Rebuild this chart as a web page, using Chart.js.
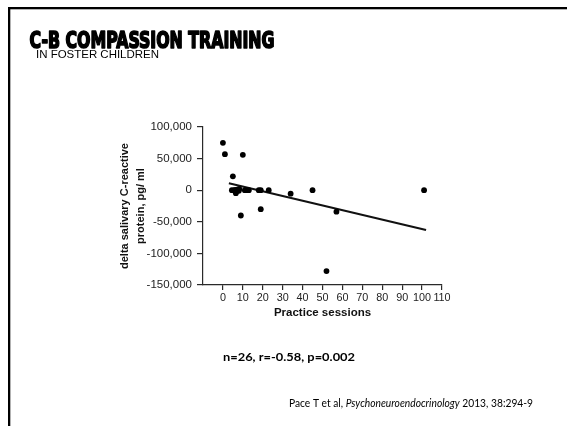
<!DOCTYPE html>
<html>
<head>
<meta charset="utf-8">
<title>C-B Compassion Training</title>
<script src="https://cdn.jsdelivr.net/npm/chart.js@4/dist/chart.umd.min.js"></script>
<style>
  html, body { margin: 0; padding: 0; background: #fff; }
  #wrap { position: relative; width: 567px; height: 426px; overflow: hidden; }
  canvas { display: block; }
</style>
</head>
<body>
<div id="wrap"><canvas id="c" width="567" height="426"></canvas></div>
<script>
// Practice sessions completed vs. change in salivary CRP, one point per child
const sessions = [0, 1, 10, 5, 9, 19, 34, 45, 57, 52, 101, 11, 13, 18, 19, 23, 4.5, 5.7, 6.5, 7.3, 8.2, 6.5, 7, 12, 8, 6];
const crpDelta = [75000, 57000, 56000, 22000, -40000, -30000, -5500, 0, -34000, -128000, 0, 0, 0, 0, 0, 0, 0, 0, -2200, 0, 2000, -4700, 1000, 0, -1000, 0];

// Least-squares fit drawn across the observed range
const fitSessions = [3, 102];
const fitCrp = [11000, -63000];

// Axis ticks
const xTickValues = [0, 10, 20, 30, 40, 50, 60, 70, 80, 90, 100, 110];
const yTickValues = [-150000, -100000, -50000, 0, 50000, 100000];

const titleText = 'C-B COMPASSION TRAINING';
const subtitleText = 'IN FOSTER CHILDREN';
const statsText = 'n=26, r=-0.58, p=0.002';
const citeParts = [
  { text: 'Pace T et al, ', italic: false },
  { text: 'Psychoneuroendocrinology', italic: true },
  { text: ' 2013, 38:294-9', italic: false }
];

const points = sessions.map((x, i) => ({ x, y: crpDelta[i] }));
const fitLine = fitSessions.map((x, i) => ({ x, y: fitCrp[i] }));

// Draws a string squeezed/stretched horizontally to a given width
function fitText(ctx, text, x, y, width, font, stroke) {
  ctx.save();
  ctx.font = font;
  const w = ctx.measureText(text).width;
  ctx.translate(x, y);
  ctx.scale(width / w, 1);
  ctx.fillText(text, 0, 0);
  if (stroke) {
    ctx.lineWidth = stroke;
    ctx.lineJoin = 'round';
    ctx.strokeText(text, 0, 0);
  }
  ctx.restore();
}

const slidePlugin = {
  id: 'slide',
  beforeDraw(chart) {
    const ctx = chart.ctx;
    ctx.save();
    ctx.fillStyle = '#ffffff';
    ctx.fillRect(0, 0, chart.width, chart.height);
    ctx.restore();
  },
  afterDraw(chart) {
    const ctx = chart.ctx;
    ctx.save();
    // slide frame
    ctx.fillStyle = '#000';
    ctx.fillRect(8, 7, 567, 2.3);
    ctx.fillRect(8, 7, 2.3, 426);

    ctx.fillStyle = '#000';
    ctx.strokeStyle = '#000';
    ctx.textBaseline = 'alphabetic';
    ctx.textAlign = 'left';
    fitText(ctx, titleText, 29.5, 48.3, 245, 'bold 22.5px "DejaVu Sans Condensed", "DejaVu Sans", sans-serif', 1.6);
    fitText(ctx, subtitleText, 36, 58, 123, '11px "Liberation Sans", Arial, sans-serif');
    fitText(ctx, statsText, 223, 361, 132, 'bold 12px Lato, "Open Sans", sans-serif');

    // citation with italic journal name
    const fontFor = p => (p.italic ? 'italic ' : '') + '11px Lato, "Open Sans", sans-serif';
    let total = 0;
    citeParts.forEach(p => { ctx.font = fontFor(p); total += ctx.measureText(p.text).width; });
    const k = 244 / total;
    ctx.translate(289, 407);
    ctx.scale(k, 1);
    let cx = 0;
    citeParts.forEach(p => {
      ctx.font = fontFor(p);
      ctx.fillText(p.text, cx, 0);
      cx += ctx.measureText(p.text).width;
    });
    ctx.restore();
  }
};

const axisColor = '#2a2a2a';

new Chart(document.getElementById('c'), {
  type: 'scatter',
  data: {
    datasets: [
      {
        data: points,
        backgroundColor: '#000',
        borderWidth: 0,
        pointRadius: 2.9,
        pointHoverRadius: 2.9
      },
      {
        data: fitLine,
        showLine: true,
        borderColor: '#111',
        borderWidth: 2,
        pointRadius: 0,
        fill: false
      }
    ]
  },
  options: {
    responsive: false,
    animation: false,
    events: [],
    layout: { padding: { top: 127, right: 125, bottom: 0, left: 0 } },
    plugins: { legend: { display: false }, tooltip: { enabled: false } },
    scales: {
      x: {
        type: 'linear',
        min: -10,
        max: 110,
        afterBuildTicks: s => { s.ticks = xTickValues.map(v => ({ value: v })); },
        afterFit: s => { s.height = 141; },
        border: { display: true, color: axisColor, width: 1.2 },
        grid: { drawOnChartArea: false, drawTicks: true, tickLength: 5, color: axisColor, lineWidth: 1.2 },
        ticks: {
          color: '#222',
          font: { family: '"Liberation Sans", Arial, sans-serif', size: 10.8 },
          padding: 2,
          maxRotation: 0,
          autoSkip: false
        },
        title: {
          display: true,
          text: 'Practice sessions',
          color: '#111',
          font: { family: '"Liberation Sans", Arial, sans-serif', size: 11.5, weight: 'bold', lineHeight: 14 / 11.5 },
          padding: { top: 0, bottom: 106.5 }
        }
      },
      y: {
        type: 'linear',
        min: -150000,
        max: 100000,
        afterBuildTicks: s => { s.ticks = yTickValues.map(v => ({ value: v })); },
        afterFit: s => { s.width = 203; },
        border: { display: true, color: axisColor, width: 1.2 },
        grid: { drawOnChartArea: false, drawTicks: true, tickLength: 6, color: axisColor, lineWidth: 1.2 },
        ticks: {
          color: '#222',
          font: { family: '"Liberation Sans", Arial, sans-serif', size: 11.5 },
          padding: 5,
          autoSkip: false,
          callback: v => v.toLocaleString('en-US')
        },
        title: {
          display: true,
          text: ['delta salivary C-reactive', 'protein, pg/ ml'],
          color: '#111',
          font: { family: '"Liberation Sans", Arial, sans-serif', size: 11, weight: 'bold', lineHeight: 16 / 11 },
          padding: { top: 117, bottom: 0 }
        }
      }
    }
  },
  plugins: [slidePlugin]
});
</script>
</body>
</html>
